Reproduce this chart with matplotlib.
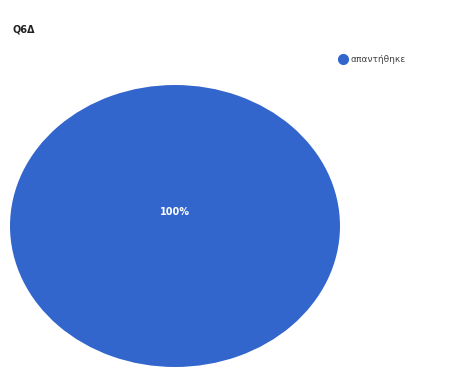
import matplotlib.pyplot as plt
from matplotlib.lines import Line2D

# data
labels = ['απαντήθηκε']
values = [1]
colors = ['#3366cc']
title = 'Q6Δ'

fig = plt.figure(figsize=(4.69, 3.67), dpi=100)
ax = fig.add_axes([10/469, 0.0, 330/469, 282/367])

wedges, _ = ax.pie(values, colors=colors, radius=1, startangle=90,
                   wedgeprops=dict(linewidth=0))
ax.set_aspect('auto')
ax.set_xlim(-1, 1)
ax.set_ylim(-1, 1)

# percentage label
total = sum(values)
pct = values[0] / total * 100
ax.text(0, 0.1, f'{pct:.0f}%', color='white', fontsize=7, fontweight='bold',
        ha='center', va='center')

fig.text(12/469, 1 - 30/367, title, fontsize=7, fontweight='bold',
         color='#222222', va='center', ha='left')

# legend with round markers
handles = [Line2D([], [], marker='o', linestyle='none', markersize=7,
                  markerfacecolor=c, markeredgecolor=c) for c in colors]
fig.legend(handles, labels, loc='center left', bbox_to_anchor=(331/469, 1 - 60/367),
           frameon=False, fontsize=6.5, handlelength=0.8, handletextpad=0.5,
           labelcolor='#444444')

plt.savefig('out.png', dpi=100)
